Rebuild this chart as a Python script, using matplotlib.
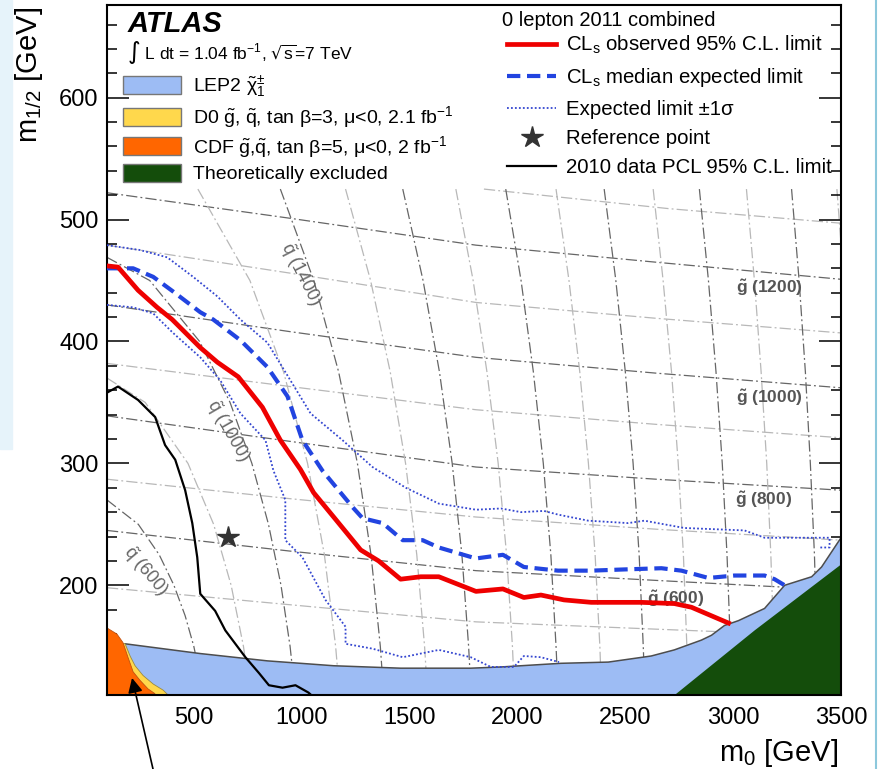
import matplotlib
matplotlib.use('Agg')
import matplotlib.pyplot as plt
from matplotlib.patches import Patch, Rectangle
from matplotlib.lines import Line2D
from matplotlib.ticker import MultipleLocator

plt.rcParams['font.family'] = ['Liberation Sans', 'DejaVu Sans']
plt.rcParams['mathtext.default'] = 'regular'

# ---- limit curves (m0, m1/2) in GeV ----
obs_m0 = [100, 151, 244, 332, 402, 532, 611, 708, 820, 903, 996, 1057, 1150,
          1275, 1358, 1460, 1553, 1637, 1809, 1934, 2031, 2110, 2217, 2343,
          2575, 2728, 2807, 2979]
obs_m12 = [462, 461, 442, 428, 418, 395, 383, 371, 346, 319, 295, 276, 256,
           229, 220, 205, 207, 207, 195, 197, 190, 192, 188, 186,
           186, 185, 182, 169]

exp_m0 = [100, 221, 314, 406, 532, 592, 718, 843, 936, 1005, 1098, 1238, 1284,
          1377, 1470, 1562, 1637, 1809, 1934, 2031, 2189, 2343, 2496, 2668,
          2761, 2886, 3006, 3146, 3192, 3239]
exp_m12 = [460, 460, 453, 441, 424, 418, 401, 379, 355, 319, 294, 264, 255,
           251, 237, 237, 231, 222, 225, 215, 212, 212, 213, 214,
           212, 206, 208, 208, 205, 200]

up_m0 = [100, 253, 379, 499, 611, 718, 843, 950, 1043, 1191, 1330, 1484, 1637,
         1809, 1925, 2018, 2124, 2189, 2329, 2514, 2589, 2774, 3053, 3146,
         3271, 3425, 3447, 3447, 3400]
up_m12 = [479, 475, 469, 453, 437, 418, 399, 368, 341, 319, 297, 280, 267,
          262, 263, 260, 261, 258, 253, 251, 253, 247, 245, 239,
          239, 239, 239, 231, 231]

dn_m0 = [100, 221, 314, 406, 532, 625, 718, 834, 871, 926, 926, 1005, 1112,
         1205, 1205, 1330, 1470, 1637, 1785, 1878, 1985, 2031, 2110, 2194]
dn_m12 = [430, 428, 423, 407, 387, 368, 341, 319, 294, 270, 237, 223, 188,
          166, 152, 148, 141, 147, 141, 133, 133, 142, 141, 137]

pcl_m0 = [100, 151, 244, 323, 369, 416, 462, 495, 518, 532, 601, 648, 741,
          804, 850, 913, 973, 1033, 1052]
pcl_m12 = [358, 363, 352, 338, 315, 303, 278, 251, 223, 193, 179, 163, 141,
           128, 118, 116, 118, 112, 109]

ref_m0 = [660]
ref_m12 = [240]

# ---- excluded regions ----
lep_m0 = [100, 184, 532, 843, 1150, 1460, 1785, 1925, 2203, 2422, 2621, 2728,
          2853, 2900, 2960, 3025, 3146, 3239, 3364, 3410, 3500]
lep_m12 = [152, 152, 144, 138, 134, 132, 132, 133, 136, 137, 142, 147,
           155, 159, 167, 171, 181, 200, 207, 215, 239]
d0_m0 = [100, 184, 207, 230, 267, 314, 360, 383]
d0_m12 = [153, 152, 142, 134, 126, 119, 114, 110]
cdf_m0 = [100, 146, 174, 197, 221, 253, 290, 323]
cdf_m12 = [165, 160, 153, 141, 129, 122, 115, 111]
theo_m0 = [2730, 3100, 3500]
theo_m12 = [110, 163, 217]

# ---- gluino mass contours ----
gl_m0 = [100, 950, 1809, 2644, 3500]
gl_m12 = [
    [522, 501, 479, 465, 451],   # 1200
    [479, 456, 432, 419, 407],   # 1100
    [430, 408, 387, 374, 362],   # 1000
    [382, 363, 344, 332, 321],   # 900
    [339, 318, 297, 287, 278],   # 800
    [287, 271, 256, 246, 237],   # 700
    [245, 228, 212, 204, 196],   # 600
    [198, 184, 170, 164, 158],   # 500
]
gl_dark = [True, False, True, False, True, False, True, False]
gl1300_m0 = [1846, 2700, 3500]
gl1300_m12 = [525, 509, 497]

# ---- squark mass contours ----
sq_m12 = [525, 450, 375, 300, 225, 150, 110]
sq_m0 = [
    [521, 762, 918, 1029, 1107, 1159, 1178],     # 1200
    [903, 1058, 1173, 1260, 1323, 1366, 1382],   # 1400
    [1205, 1321, 1412, 1483, 1535, 1571, 1585],  # 1600
    [1470, 1564, 1640, 1699, 1744, 1775, 1787],  # 1800
    [1716, 1796, 1860, 1912, 1951, 1978, 1988],  # 2000
    [1947, 2018, 2075, 2121, 2156, 2180, 2190],  # 2200
    [2180, 2240, 2290, 2330, 2361, 2383, 2391],  # 2400
    [2403, 2457, 2501, 2537, 2565, 2584, 2592],  # 2600
    [2630, 2676, 2715, 2746, 2770, 2786, 2793],  # 2800
    [2844, 2886, 2921, 2950, 2972, 2988, 2993],  # 3000
    [3062, 3099, 3130, 3156, 3175, 3189, 3194],  # 3200
    [3271, 3306, 3335, 3358, 3377, 3389, 3394],  # 3400
    [3481, 3513, 3540, 3562, 3580, 3593, 3598],  # 3600
]
sq_dark = [False, True, False, True, False, True, False, True, False, True,
           False, True, False]
sq600_m0 = [100, 245, 342, 410, 462, 502, 549]
sq600_m12 = [270, 250, 225, 200, 175, 150, 110]
sq800_m0 = [100, 277, 475, 594, 675, 732, 764]
sq800_m12 = [370, 350, 300, 250, 200, 150, 110]
sq1000_m0 = [100, 298, 529, 670, 771, 848, 906, 948, 972]
sq1000_m12 = [469, 450, 400, 350, 300, 250, 200, 150, 110]

DARK = '#666666'
LIGHT = '#b8b8b8'
DASHDOT = (0, (9, 2.5, 1.5, 2.5))

fig = plt.figure(figsize=(8.82, 7.69), dpi=100)
ax = fig.add_axes([107 / 882, 74 / 769, 734 / 882, 690 / 769])

# slide decorations around the screenshot
fig.patches.append(Rectangle((0, 320 / 769), 12 / 882, 449 / 769,
                             transform=fig.transFigure, color='#e6f3fa', zorder=0))
fig.lines.append(Line2D([876 / 882, 876 / 882], [0, 1], transform=fig.transFigure,
                        color='#8cc8dc', lw=1.5))

# mass grid
for row, dark in zip(gl_m12, gl_dark):
    ax.plot(gl_m0, row, color=DARK if dark else LIGHT, lw=0.9, ls=DASHDOT, zorder=1)
ax.plot(gl1300_m0, gl1300_m12, color=LIGHT, lw=0.9, ls=DASHDOT, zorder=1)
for col, dark in zip(sq_m0, sq_dark):
    ax.plot(col, sq_m12, color=DARK if dark else LIGHT, lw=0.9, ls=DASHDOT, zorder=1)
ax.plot(sq600_m0, sq600_m12, color=DARK, lw=0.9, ls=DASHDOT, zorder=1)
ax.plot(sq800_m0, sq800_m12, color=LIGHT, lw=0.9, ls=DASHDOT, zorder=1)
ax.plot(sq1000_m0, sq1000_m12, color=DARK, lw=0.9, ls=DASHDOT, zorder=1)

lbl = dict(color='#555555', fontsize=12.5, fontweight='bold', ha='center', va='center')
ax.text(3169, 444, r'$\tilde{g}$ (1200)', **lbl)
ax.text(3169, 354, r'$\tilde{g}$ (1000)', **lbl)
ax.text(3141, 270, r'$\tilde{g}$ (800)', **lbl)
ax.text(2733, 189, r'$\tilde{g}$ (600)', **lbl)
sql = dict(color='#666666', fontsize=13, ha='center', va='center')
ax.text(996, 455, r'$\tilde{q}$ (1400)', rotation=-63, **sql)
ax.text(657, 327, r'$\tilde{q}$ (1000)', rotation=-60, **sql)
ax.text(276, 212, r'$\tilde{q}$ (600)', rotation=-50, **sql)

# excluded regions
ax.fill(lep_m0 + [3500, 100], lep_m12 + [110, 110], color='#9dbcf4', lw=0, zorder=1.6)
ax.plot(lep_m0[1:], lep_m12[1:], color='#4d4d4d', lw=1.1, zorder=1.7)
ax.fill(d0_m0 + [100], d0_m12 + [110], facecolor='#ffd84c', edgecolor='#9a8a40',
        lw=0.6, zorder=1.8)
ax.fill(cdf_m0 + [100], cdf_m12 + [110], facecolor='#ff6600', edgecolor='#c05010',
        lw=0.6, zorder=1.9)
ax.fill(theo_m0 + [3500], theo_m12 + [110], color='#144d0b', lw=0, zorder=1.9)

# limit curves
ax.plot(pcl_m0, pcl_m12, color='black', lw=1.6, zorder=4)
ax.plot(dn_m0, dn_m12, color='#3446d0', lw=1.3, ls=(0, (1, 1.2)), zorder=4)
ax.plot(up_m0, up_m12, color='#3446d0', lw=1.3, ls=(0, (1, 1.2)), zorder=4)
ax.plot(exp_m0, exp_m12, color='#2244e0', lw=3.0, ls=(0, (3.2, 1.6)), zorder=5)
ax.plot(obs_m0, obs_m12, color='#ee0000', lw=3.4, zorder=6)
ax.plot(ref_m0, ref_m12, ls='none', marker='*', ms=16, color='#333333', zorder=7)

ax.set_xlim(100, 3500)
ax.set_ylim(110, 676)
ax.xaxis.set_major_locator(MultipleLocator(500))
ax.xaxis.set_minor_locator(MultipleLocator(100))
ax.yaxis.set_major_locator(MultipleLocator(100))
ax.yaxis.set_minor_locator(MultipleLocator(20))
ax.tick_params(which='both', direction='in', right=True, top=False, width=1.1,
               labelsize=17)
ax.tick_params(which='major', length=15.5)
ax.tick_params(which='minor', length=7.5)
ax.tick_params(axis='x', pad=9)
ax.tick_params(axis='y', pad=6)
for sp in ax.spines.values():
    sp.set_linewidth(1.5)

fig.text(838 / 882, 16 / 769, r'm$_0$ [GeV]', ha='right', va='center', fontsize=21)
fig.text(29 / 882, 626 / 769, r'm$_{1/2}$ [GeV]', ha='center', va='bottom',
         rotation=90, fontsize=21)

# left legend block
ax.text(0.0286, 0.973, 'ATLAS', transform=ax.transAxes, fontsize=21,
        fontweight='bold', fontstyle='italic', va='center', ha='left')
ax.text(0.0272, 0.931, r'$\int$ L dt = 1.04 fb$^{-1}$, $\sqrt{s}$=7 TeV',
        transform=ax.transAxes, fontsize=12.5, va='center', ha='left')
patches = [Patch(facecolor='#9dbcf4', edgecolor='#777777'),
           Patch(facecolor='#ffd84c', edgecolor='#777777'),
           Patch(facecolor='#ff6600', edgecolor='#777777'),
           Patch(facecolor='#144d0b', edgecolor='#777777')]
patch_labels = [r'LEP2 $\tilde{\chi}_1^{\pm}$',
                r'D0 $\tilde{g}$, $\tilde{q}$, tan β=3, μ<0, 2.1 fb$^{-1}$',
                r'CDF $\tilde{g}$,$\tilde{q}$, tan β=5, μ<0, 2 fb$^{-1}$',
                'Theoretically excluded']
leg1 = ax.legend(patches, patch_labels, loc='upper left', bbox_to_anchor=(0.0218, 0.90),
                 frameon=False, fontsize=14, handlelength=3.0, handleheight=1.05,
                 handletextpad=0.6, labelspacing=0.2, borderpad=0, borderaxespad=0)
ax.add_artist(leg1)

# right legend block
ax.text(0.538, 0.978, '0 lepton 2011 combined', transform=ax.transAxes,
        fontsize=14.5, va='center', ha='left')
handles = [Line2D([], [], color='#ee0000', lw=3.4),
           Line2D([], [], color='#2244e0', lw=3.0, ls=(0, (3.2, 1.6))),
           Line2D([], [], color='#3446d0', lw=1.3, ls=(0, (1, 1.2))),
           Line2D([], [], ls='none', marker='*', ms=16, color='#333333'),
           Line2D([], [], color='black', lw=1.6)]
labels = [r'CL$_s$ observed 95% C.L. limit', r'CL$_s$ median expected limit',
          'Expected limit ±1σ', 'Reference point', '2010 data PCL 95% C.L. limit']
ax.legend(handles, labels, loc='upper left', bbox_to_anchor=(0.545, 0.958),
          frameon=False, fontsize=14.7, handlelength=2.4, handletextpad=0.5,
          labelspacing=0.5, borderpad=0, borderaxespad=0)

# arrow pointing at the Tevatron regions
ax.annotate('', xy=(216, 124), xycoords='data', xytext=(153, 0),
            textcoords='figure pixels', annotation_clip=False,
            arrowprops=dict(arrowstyle='-|>', color='black', lw=1.2,
                            mutation_scale=22, shrinkA=0, shrinkB=0))

fig.savefig('out.png', dpi=100)
